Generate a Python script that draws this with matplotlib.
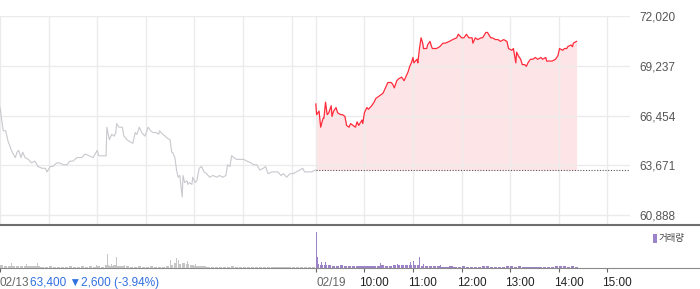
import matplotlib.pyplot as plt
from matplotlib.lines import Line2D
from matplotlib.patches import Rectangle
from matplotlib.transforms import ScaledTranslation, blended_transform_factory

plt.rcParams['font.family'] = ['Liberation Sans', 'DejaVu Sans']

# price axis
y_ticks = [60888, 63671, 66454, 69237, 72020]
y_labels = ['60,888', '63,671', '66,454', '69,237', '72,020']
prev_close = 63400

# 02/13 session, minutes after 09:00 and price
day1_min = [0, 4, 7, 10, 15, 19, 21, 23, 26, 28, 31, 35, 39, 43, 47, 52, 56, 58, 62, 65,
            70, 74, 78, 83, 86, 90, 95, 101, 105, 110, 115, 120, 122, 127, 131, 132, 135, 138, 141, 143,
            144, 147, 151, 153, 157, 160, 164, 167, 169, 172, 175, 179, 183, 186, 189, 193, 196, 197, 201, 204,
            206, 210, 212, 213, 216, 218, 220, 222, 225, 226, 228, 231, 232, 234, 237, 238, 241, 243, 246, 249,
            252, 255, 259, 263, 268, 271, 275, 279, 281, 284, 286, 289, 292, 297, 301, 305, 310, 313, 317, 321,
            325, 328, 331, 336, 339, 343, 347, 350, 354, 358, 362, 366, 370, 374, 376, 380, 385, 389]
day1_price = [66900, 65600, 65600, 65000, 64400, 64100, 64400, 64500, 64100, 64400, 64100, 64000, 63800, 63900, 63600, 63500, 63500, 63300, 63600, 63600,
              63800, 63800, 63700, 63700, 63900, 63900, 64100, 64100, 64300, 64200, 64100, 64500, 64200, 64200, 64200, 65800, 65100, 65400, 65300, 65500,
              66000, 65800, 65800, 65300, 65100, 65000, 64900, 65500, 65400, 65800, 65500, 65300, 65800, 65600, 65500, 65500, 65400, 65600, 65400, 65300,
              65200, 65100, 64400, 64400, 64100, 63400, 63000, 63100, 61900, 63100, 62700, 62800, 62600, 62700, 62600, 63000, 62700, 62800, 63500, 63600,
              63300, 63200, 63000, 63100, 63000, 63100, 63000, 63100, 63700, 63600, 64200, 64100, 64000, 64000, 64000, 63900, 63800, 63700, 63700, 63400,
              63500, 63600, 63200, 63300, 63300, 63300, 63100, 63200, 63000, 63200, 63200, 63300, 63400, 63500, 63300, 63300, 63300, 63400]

# 02/19 session
day2_min = [0, 1, 4, 6, 9, 10, 12, 14, 16, 19, 20, 22, 25, 27, 31, 33, 36, 38, 41, 43,
            46, 49, 51, 53, 57, 58, 60, 63, 65, 69, 72, 74, 77, 80, 83, 86, 89, 93, 95, 97,
            100, 102, 106, 109, 111, 114, 116, 118, 120, 121, 125, 126, 128, 130, 132, 133, 137, 138, 141, 143,
            144, 149, 153, 157, 160, 165, 169, 174, 176, 180, 183, 186, 189, 193, 194, 197, 200, 204, 206, 210,
            212, 216, 218, 222, 225, 228, 232, 236, 238, 242, 244, 247, 248, 250, 253, 255, 258, 260, 262, 265,
            268, 271, 274, 278, 280, 284, 285, 289, 292, 296, 299, 301, 305, 307, 310, 311, 315, 317, 318, 322]
day2_price = [67100, 66500, 66700, 65800, 66300, 66300, 67200, 66500, 66600, 67000, 66400, 66700, 66900, 66600, 66500, 66500, 66400, 65900, 65800, 66000,
              65900, 65800, 66100, 65900, 66200, 66000, 66600, 66900, 66800, 67000, 67200, 67400, 67500, 67600, 67700, 68000, 68300, 68300, 68200, 68000,
              68400, 68500, 68600, 68400, 68600, 68900, 69200, 69400, 69700, 69400, 69600, 69400, 70200, 70800, 70500, 70200, 70200, 70400, 70600, 70300,
              70200, 70200, 70300, 70500, 70500, 70600, 70700, 70800, 71000, 70800, 70800, 71000, 70800, 70800, 70500, 70800, 70700, 70800, 70800, 71100,
              71100, 70800, 70800, 70700, 70700, 70600, 70700, 70600, 70200, 70100, 70200, 69400, 70000, 69800, 69600, 69300, 69300, 69200, 69400, 69600,
              69600, 69700, 69600, 69700, 69600, 69700, 69500, 69500, 69500, 69600, 69800, 70200, 70100, 70200, 70200, 70300, 70400, 70300, 70500, 70600]

# volume: 5-minute base level plus single-minute spikes
day1_base = [30, 25, 20, 25, 20, 25, 20, 20,
             20, 25, 15, 15, 20, 15, 15, 15,
             15, 20, 15, 15, 20, 15, 20, 15,
             20, 15, 30, 25, 30, 20, 20, 20,
             15, 15, 20, 15, 15, 20, 15, 15,
             15, 20, 35, 50, 45, 50, 40, 30,
             25, 20, 20, 15, 15, 15, 10, 15,
             15, 20, 15, 15, 10, 15, 15, 10,
             15, 10, 15, 15, 10, 15, 10, 15,
             15, 10, 15, 15, 10, 15]
day2_base = [40, 35, 30, 30, 25, 25, 30, 25,
             25, 20, 20, 25, 20, 20, 25, 25,
             30, 25, 25, 30, 35, 30, 35, 30,
             35, 30, 25, 25, 20, 20, 20, 15,
             15, 20, 15, 15, 20, 15, 15, 15,
             15, 20, 20, 15, 15, 15, 15, 20,
             20, 15, 20, 15, 15, 15, 15, 15,
             15, 15, 15, 20, 25, 20, 15, 20,
             15]
day1_spike_min = [14, 32, 46, 119, 132, 137, 143, 153, 210, 212, 217, 220, 223, 226, 231, 241, 286, 349]
day1_spike_vol = [50, 40, 50, 30, 140, 40, 110, 30, 80, 70, 100, 80, 100, 50, 70, 40, 30, 20]
day2_spike_min = [0, 1, 2, 7, 11, 38, 69, 79, 100, 112, 116, 120, 128, 132, 153, 211, 301]
day2_spike_vol = [360, 160, 110, 60, 60, 50, 90, 50, 40, 130, 60, 70, 110, 40, 30, 70, 50]

day1_grid = [0, 60, 120, 180, 240, 300, 360]
day2_ticks = [0, 60, 120, 180, 240, 300, 360]
day2_labels = ['02/19', '10:00', '11:00', '12:00', '13:00', '14:00', '15:00']

W, H = 700, 289
fig = plt.figure(figsize=(W / 100, H / 100), dpi=100)


def box(x0, y0, x1, y1):
    return [x0 / W, 1 - y1 / H, (x1 - x0) / W, (y1 - y0) / H]


grid_c = '#ebebeb'
ax = fig.add_axes(box(0, 16, 630, 225))
d2_x = [390 + m for m in day2_min]
ax.fill_between(d2_x, day2_price, prev_close, color='#fde5e7', lw=0, zorder=1)
ax.plot(day1_min + [390], day1_price + [day1_price[-1]], color='#c8c8ce', lw=0.8, zorder=3)
ax.plot(d2_x, day2_price, color='#ff2b3b', lw=0.9, zorder=4)
ax.hlines(prev_close, 390, 778, colors='#555555', linestyles=(0, (1, 1.5)), lw=0.8, zorder=5)

ax.set_xlim(0, 778)
ax.set_ylim(60329, 72020)
ax.set_xticks(day1_grid + [390 + m for m in day2_ticks])
ax.set_xticklabels([])
ax.set_yticks(y_ticks)
ax.set_yticklabels(y_labels)
ax.yaxis.tick_right()
ax.tick_params(axis='both', length=0)
ax.tick_params(axis='y', pad=6.5, labelsize=8.5, labelcolor='#555555')
ax.grid(True, color=grid_c, lw=1, zorder=0)
for s in ax.spines.values():
    s.set_visible(False)
for t in ax.get_yticklabels():
    t.set_clip_on(False)

# volume panel
axv = fig.add_axes(box(0, 226, 630, 268))
base_min1 = list(range(0, 390, 5))
base_min2 = list(range(0, 325, 5))
axv.bar(base_min1, day1_base, width=4, align='edge', color='#c6c6c6', lw=0)
axv.bar(day1_spike_min, day1_spike_vol, width=1, align='edge', color='#c6c6c6', lw=0)
axv.bar([390 + m for m in base_min2], day2_base, width=4, align='edge', color='#9b82c9', lw=0)
axv.bar([390 + m for m in day2_spike_min], day2_spike_vol, width=1, align='edge', color='#9b82c9', lw=0)
axv.set_xlim(0, 778)
axv.set_ylim(0, 420)
axv.set_yticks([])
vt = [0] + [390 + m for m in day2_ticks]
axv.set_xticks(vt)
axv.set_xticklabels([])
axv.tick_params(axis='x', length=3, color='#666666', width=0.8)
for s in axv.spines.values():
    s.set_visible(False)

# separators across the full width
fig.add_artist(Line2D([0, 1], [1 - 225 / H] * 2, color='#6e6e6e', lw=1.5))
fig.add_artist(Line2D([0, 1], [1 - 268 / H] * 2, color='#8a8a8a', lw=0.8))

# bottom labels
tr = blended_transform_factory(axv.transData, fig.transFigure)
ly = 1 - 283 / H
axv.text(0, ly, '02/13', transform=tr, ha='left', va='center', fontsize=8.5, color='#666666')
axv.text(0, ly, '63,400 ▼2,600 (-3.94%)', ha='left', va='center', fontsize=8.5, color='#2f6fe0',
         transform=tr + ScaledTranslation(30 / 100, 0, fig.dpi_scale_trans))
axv.text(390, ly, day2_labels[0], transform=tr + ScaledTranslation(1 / 100, 0, fig.dpi_scale_trans),
         ha='left', va='center', fontsize=8.5, color='#666666')
for m, lab in zip(day2_ticks[1:], day2_labels[1:]):
    axv.text(390 + m, ly, lab, transform=tr + ScaledTranslation(-5 / 100, 0, fig.dpi_scale_trans),
             ha='left', va='center', fontsize=8.5, color='#222222')

# legend
fig.add_artist(Rectangle((653 / W, 1 - 243 / H), 3.5 / W, 9 / H, transform=fig.transFigure,
                         color='#9b82c9', lw=0))
fig.text(659 / W, 1 - 238.5 / H, '거래량', ha='left', va='center', fontsize=6.8, color='#444444',
         family=['Noto Sans CJK KR', 'DejaVu Sans'])

fig.savefig('out.png', dpi=100)
